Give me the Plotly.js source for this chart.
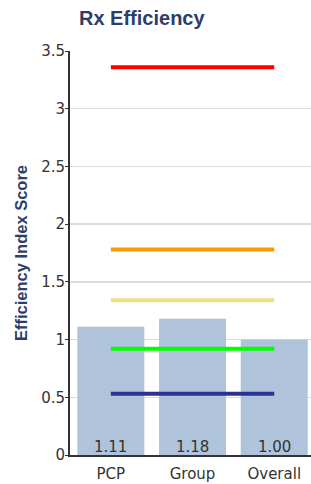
<!DOCTYPE html>
<html>
<head>
<meta charset="utf-8">
<script src="https://cdn.plot.ly/plotly-3.0.1.min.js"></script>
<style>html,body{margin:0;padding:0;background:#fff;}#chart{width:311px;height:484px;}</style>
</head>
<body>
<div id="chart"></div>
<script>
var categories = ['PCP', 'Group', 'Overall'];
var scores = [1.11, 1.18, 1.00];
var scoreLabels = ['1.11', '1.18', '1.00'];
var benchmarkNames = ['Red', 'Orange', 'Yellow', 'Green', 'Blue'];
var benchmarkValues = [3.36, 1.78, 1.34, 0.92, 0.53];
var benchmarkColors = ['#ff0000', '#ff9900', '#f2df85', '#00ff00', '#2e3192'];
var yTickVals = [0, 0.5, 1, 1.5, 2, 2.5, 3, 3.5];
var yTickText = ['0', '0.5', '1', '1.5', '2', '2.5', '3', '3.5'];

var traces = [{
  type: 'bar',
  x: categories,
  y: scores,
  marker: {color: '#afc3da'},
  width: 0.82,
  hoverinfo: 'none',
  showlegend: false
}];
for (var i = 0; i < benchmarkValues.length; i++) {
  traces.push({
    type: 'scatter',
    mode: 'lines',
    x: [categories[0], categories[categories.length - 1]],
    y: [benchmarkValues[i], benchmarkValues[i]],
    name: benchmarkNames[i],
    line: {color: benchmarkColors[i], width: 4},
    hoverinfo: 'none',
    showlegend: false
  });
}

var annotations = categories.map(function (c, i) {
  return {
    x: c, y: 0, xref: 'x', yref: 'y',
    text: scoreLabels[i],
    showarrow: false,
    yanchor: 'bottom',
    yshift: -3,
    font: {family: 'DejaVu Sans', size: 15, color: '#333333'}
  };
});

var layout = {
  width: 311,
  height: 484,
  margin: {l: 70, r: 0, t: 51, b: 29, pad: 0},
  paper_bgcolor: '#ffffff',
  plot_bgcolor: '#ffffff',
  title: {
    text: '<b>Rx Efficiency</b>',
    font: {family: 'Liberation Sans', size: 20, color: '#2e3d6b'},
    x: 79 / 311, xanchor: 'left', xref: 'container',
    y: 1 - 18 / 484, yanchor: 'middle', yref: 'container'
  },
  annotations: annotations,
  xaxis: {
    type: 'category',
    range: [-0.5, 2.45],
    showline: true,
    linecolor: '#333333',
    linewidth: 2,
    ticks: '',
    showgrid: false,
    zeroline: false,
    layer: 'below traces',
    ticklabelstandoff: 4,
    tickfont: {family: 'DejaVu Sans', size: 15, color: '#333333'}
  },
  yaxis: {
    range: [0, 3.5],
    tickvals: yTickVals,
    ticktext: yTickText,
    showline: true,
    linecolor: '#333333',
    linewidth: 2,
    ticks: 'outside',
    ticklen: 3,
    tickcolor: '#333333',
    tickwidth: 1,
    ticklabelstandoff: -3,
    showgrid: true,
    gridcolor: '#dddddd',
    gridwidth: 1.5,
    zeroline: false,
    tickfont: {family: 'DejaVu Sans', size: 15, color: '#333333'},
    title: {
      text: '<b>Efficiency Index Score</b>',
      font: {family: 'Liberation Sans', size: 16.5, color: '#2e3d6b'},
      standoff: 9
    }
  }
};

Plotly.newPlot('chart', traces, layout, {displayModeBar: false, staticPlot: true});
</script>
</body>
</html>
